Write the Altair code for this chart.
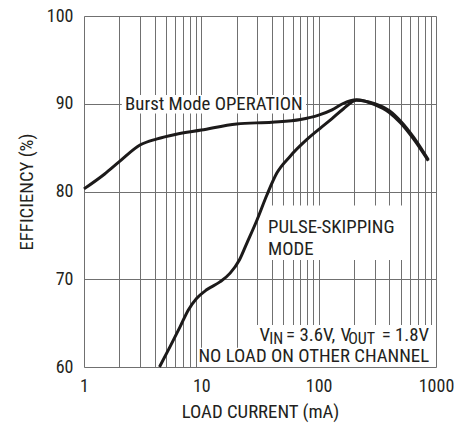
import altair as alt
import pandas as pd

# ---- data ----
burst_x = [1.0, 1.5, 2.0, 3.0, 4.2, 6.0, 10, 20, 40, 70, 100, 130, 160, 210, 300, 400, 500, 650, 860]
burst_y = [80.3, 82.0, 83.4, 85.3, 86.0, 86.5, 87.0, 87.7, 87.9, 88.2, 88.7, 89.3, 90.0, 90.45, 89.9, 89.0, 87.8, 85.9, 83.5]

pulse_x = [4.4, 5.4, 6.6, 7.75, 9.1, 11.1, 14.4, 17.6, 21.1, 24.4, 29.7, 36.2, 44, 57, 79, 103, 130, 162, 210, 300, 400, 500, 650, 860]
pulse_y = [60.0, 62.3, 64.6, 66.5, 67.8, 68.8, 69.7, 70.7, 72.2, 74.1, 76.7, 79.6, 82.1, 84.0, 85.9, 87.2, 88.3, 89.4, 90.4, 90.0, 89.2, 88.0, 86.1, 83.6]

x_grid = [1, 2, 3, 4, 5, 6, 7, 8, 9, 10, 20, 30, 40, 50, 60, 70, 80, 90,
          100, 200, 300, 400, 500, 600, 700, 800, 900, 1000]
x_labels = ["1", "10", "100", "1000"]
y_ticks = [60, 70, 80, 90, 100]

FONT = "Roboto Condensed, Liberation Sans Narrow, Arial Narrow, DejaVu Sans Condensed, Roboto, sans-serif"
INK = "#231f20"
FS = 18
AFS = 18.8   # annotation text
SFS = 16     # subscripts

df = pd.concat([
    pd.DataFrame({"x": burst_x, "y": burst_y, "s": "Burst"}),
    pd.DataFrame({"x": pulse_x, "y": pulse_y, "s": "Pulse"}),
])

xs = alt.Scale(type="log", domain=[1, 1000], nice=False)
ys = alt.Scale(domain=[60, 100], nice=False, zero=False)

xaxis = alt.Axis(values=x_grid, format="d",
                 labelExpr="indexof(%s, datum.label) >= 0 ? datum.label : ''" % str(x_labels),
                 title="LOAD CURRENT (mA)", ticks=False, domain=False,
                 grid=True, gridColor="#707070", gridWidth=1, gridOpacity=1,
                 labelFont=FONT, labelFontSize=FS, labelColor=INK, labelPadding=10,
                 titleFont=FONT, titleFontSize=AFS, titleFontWeight="normal", titleColor=INK,
                 titlePadding=7, labelFlush=False, labelOverlap=False)
yaxis = alt.Axis(values=y_ticks, title="EFFICIENCY (%)", ticks=False, domain=False,
                 grid=True, gridColor="#707070", gridWidth=1, gridOpacity=1,
                 labelFont=FONT, labelFontSize=FS, labelColor=INK, labelPadding=11,
                 titleFont=FONT, titleFontSize=AFS, titleFontWeight="normal", titleColor=INK,
                 titlePadding=10, labelFlush=False, labelOverlap=False)

# white label backgrounds (in data units)
boxes = pd.DataFrame({
    "x1": [2.1, 35, 25, 9.4],
    "x2": [78, 550, 1000, 1000],
    "y1": [88.9, 72.2, 60, 60],
    "y2": [91.0, 78.4, 64.8, 62.2],
})
rects = alt.Chart(boxes).mark_rect(color="white").encode(
    x=alt.X("x1:Q", scale=xs, axis=xaxis),
    x2="x2:Q",
    y=alt.Y("y1:Q", scale=ys, axis=yaxis),
    y2="y2:Q",
)

lines = alt.Chart(df).mark_line(color="#1c1a1a", strokeWidth=3, interpolate="monotone").encode(
    x=alt.X("x:Q", scale=xs),
    y=alt.Y("y:Q", scale=ys),
    detail="s:N",
)

def label(txt, x, y, align="left", dx=0, dy=0, size=AFS):
    d = pd.DataFrame({"x": [x], "y": [y], "t": [txt]})
    return alt.Chart(d).mark_text(align=align, baseline="middle", font=FONT, fontSize=size,
                                  color=INK, dx=dx, dy=dy).encode(
        x=alt.X("x:Q", scale=xs), y=alt.Y("y:Q", scale=ys), text="t:N")

RX = 873  # right edge of the condition text
texts = [
    label("Burst Mode OPERATION", 2.24, 90.0),
    label("PULSE-SKIPPING", 37, 76.0),
    label("MODE", 37, 73.5),
    label("NO LOAD ON OTHER CHANNEL", RX, 61.2, align="right"),
    # V_IN = 3.6V, V_OUT = 1.8V  (pieces right-aligned on one anchor)
    label("= 1.8V", RX, 63.6, align="right", dx=0),
    label("OUT", RX, 63.6, align="right", dx=-54, dy=3.5, size=SFS),
    label("V", RX, 63.6, align="right", dx=-78),
    label("= 3.6V,", RX, 63.6, align="right", dx=-94),
    label("IN", RX, 63.6, align="right", dx=-146, dy=3.5, size=SFS),
    label("V", RX, 63.6, align="right", dx=-159),
]

chart = alt.layer(rects, lines, *texts).properties(
    width=352, height=351,
    autosize=alt.AutoSizeParams(type="none"),
    padding={"left": 76, "top": 8, "right": 25, "bottom": 58},
).configure_view(stroke="#2a2a2a", strokeWidth=1.5).configure(background="white")

chart.save("out.html", embed_options={"renderer": "svg", "actions": False})
